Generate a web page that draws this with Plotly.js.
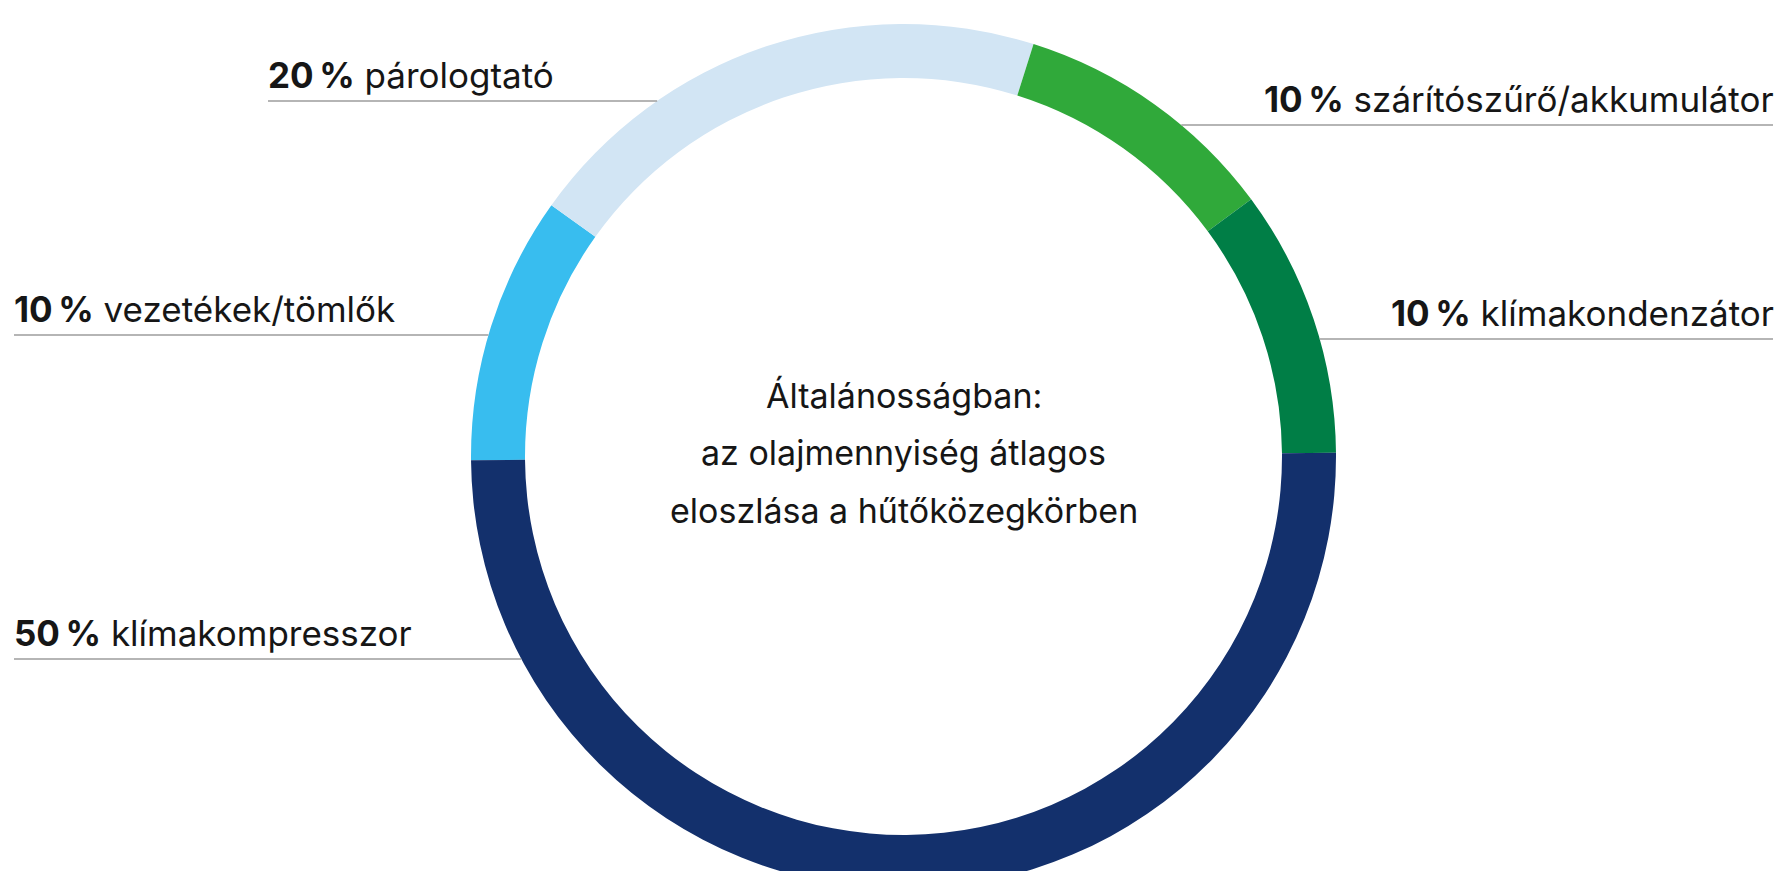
<!DOCTYPE html>
<html>
<head>
<meta charset="utf-8">
<script src="https://cdn.plot.ly/plotly-3.0.1.min.js"></script>
<style>
  html, body { margin: 0; padding: 0; background: #ffffff; overflow: hidden; }
  #chart { width: 1781px; height: 900px; }
</style>
</head>
<body>
<div id="chart"></div>
<script>
// ---- data ----
const categories = ['vezetékek/tömlők', 'párologtató', 'szárítószűrő/akkumulátor', 'klímakondenzátor', 'klímakompresszor'];
const shares = [10, 20, 10, 10, 50];
const sliceColors = ['#38BDEF', '#D2E5F4', '#30A93A', '#007E46', '#13306C'];
const centerLines = ['Általánosságban:', 'az olajmennyiség átlagos', 'eloszlása a hűtőközegkörben'];

// ---- geometry (pixels in the figure) ----
const W = 1781, H = 900;
const cx = 903.5, cy = 456.5, R = 432.5, r = 378.5;
const FONT = 'Inter, "Liberation Sans", Arial, sans-serif';
const FS = 35;
const FSC = 34;
const px = x => x / W;
const py = y => 1 - y / H;

// label placement: side, text anchor x, line end x, baseline y, line y
const placement = [
  {side: 'left',  x: 12,   lx: 14,   base: 322, line: 335},
  {side: 'left',  x: 266,  lx: 268,  base: 88,  line: 101},
  {side: 'right', x: 1776, lx: 1773, base: 112, line: 125},
  {side: 'right', x: 1776, lx: 1773, base: 326, line: 339},
  {side: 'left',  x: 12,   lx: 14,   base: 646, line: 659}
];

const annotations = [];
const shapes = [];
categories.forEach((cat, i) => {
  const p = placement[i];
  annotations.push({
    xref: 'paper', yref: 'paper',
    x: px(p.x), y: py(p.base - 0.363 * FS),
    xanchor: p.side === 'left' ? 'left' : 'right', yanchor: 'middle',
    text: '<b>' + shares[i] + '\u2009%</b> ' + cat,
    showarrow: false,
    font: {family: FONT, size: FS, color: '#161616'}
  });
  const dx = Math.sqrt(R * R - (p.line - cy) * (p.line - cy));
  const x0 = p.side === 'left' ? p.lx : cx + dx;
  const x1 = p.side === 'left' ? cx - dx : p.lx;
  shapes.push({
    type: 'line', xref: 'paper', yref: 'paper',
    x0: px(x0), x1: px(x1), y0: py(p.line), y1: py(p.line),
    line: {color: '#9c9c9c', width: 1.5}
  });
});

const centerBase = [408, 465, 523];
centerLines.forEach((t, i) => {
  annotations.push({
    xref: 'paper', yref: 'paper',
    x: px(cx), y: py(centerBase[i] - 0.363 * FSC),
    xanchor: 'center', yanchor: 'middle',
    text: t, showarrow: false,
    font: {family: FONT, size: FSC, color: '#161616'}
  });
});

const trace = {
  type: 'pie',
  labels: categories,
  values: shares,
  sort: false,
  direction: 'clockwise',
  rotation: -90.5,
  hole: r / R,
  textinfo: 'none',
  hoverinfo: 'none',
  marker: {colors: sliceColors, line: {width: 0}},
  domain: {x: [px(cx - R), px(cx + R)], y: [py(cy + R), py(cy - R)]},
  showlegend: false
};

const layout = {
  width: W, height: H,
  margin: {l: 0, r: 0, t: 0, b: 0},
  paper_bgcolor: '#ffffff',
  plot_bgcolor: '#ffffff',
  showlegend: false,
  annotations: annotations,
  shapes: shapes
};

Plotly.newPlot('chart', [trace], layout, {displayModeBar: false, staticPlot: true});
</script>
</body>
</html>
